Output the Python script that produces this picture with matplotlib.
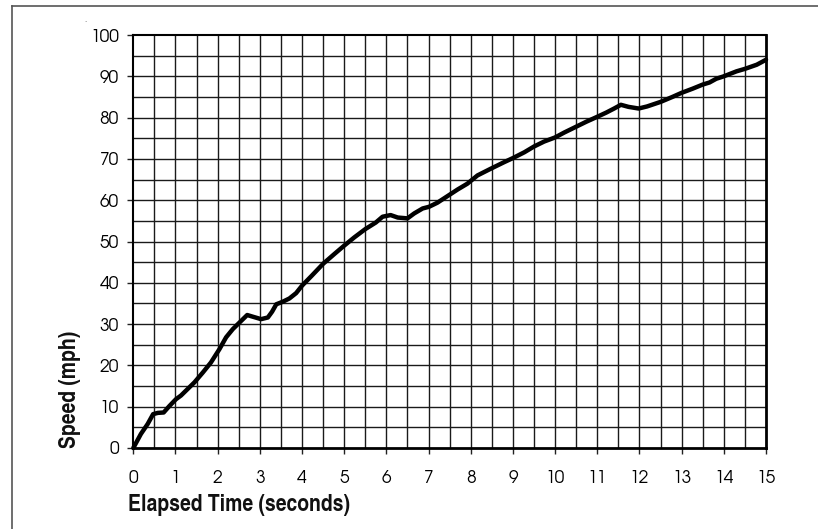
import matplotlib
matplotlib.use("Agg")
import matplotlib.pyplot as plt
from matplotlib.lines import Line2D

# Data
time_s = [0.0, 0.18, 0.34, 0.47, 0.58, 0.72, 0.85, 1.01, 1.13, 1.29, 1.45, 1.65,
          1.84, 2.04, 2.2, 2.36, 2.52, 2.7, 2.83, 3.03, 3.19, 3.29, 3.39, 3.54,
          3.7, 3.86, 4.0, 4.22, 4.5, 4.77, 5.0, 5.24, 5.5, 5.75, 5.91, 6.1,
          6.27, 6.5, 6.66, 6.86, 7.01, 7.21, 7.45, 7.69, 7.92, 8.16, 8.47, 8.79,
          9.0, 9.27, 9.5, 9.74, 10.0, 10.22, 10.5, 10.74, 11.0, 11.21, 11.4, 11.56,
          11.74, 11.98, 12.18, 12.5, 12.78, 13.0, 13.26, 13.5, 13.66, 13.82, 14.0,
          14.3, 14.5, 14.78, 15.0]
speed_mph = [0.0, 3.4, 5.8, 8.2, 8.5, 8.6, 10.1, 11.8, 12.7, 14.3, 15.9, 18.3,
             20.7, 23.9, 26.8, 28.8, 30.4, 32.2, 31.8, 31.2, 31.6, 33.0, 34.8, 35.4,
             36.2, 37.5, 39.3, 41.6, 44.6, 47.0, 49.0, 51.0, 53.0, 54.6, 56.0, 56.4,
             55.8, 55.6, 56.8, 58.0, 58.4, 59.4, 61.0, 62.6, 64.0, 66.0, 67.6, 69.2,
             70.2, 71.6, 73.0, 74.2, 75.2, 76.4, 77.8, 79.0, 80.2, 81.2, 82.2, 83.1,
             82.6, 82.2, 82.7, 83.8, 85.0, 86.0, 87.0, 88.0, 88.5, 89.4, 90.0,
             91.2, 91.8, 92.8, 94.0]

x_ticks = list(range(0, 16))
y_ticks = list(range(0, 101, 10))
x_label = "Elapsed Time (seconds)"
y_label = "Speed (mph)"

TICK_FONT = ["TeX Gyre Adventor", "Questrial", "DejaVu Sans"]
LABEL_FONT = ["TeX Gyre Heros Cn", "Roboto Condensed", "DejaVu Sans"]

W, H = 818, 529
fig = plt.figure(figsize=(W / 100, H / 100), dpi=100)
ax = fig.add_axes([133.3 / W, 1 - 448 / H, (766 - 133.3) / W, (448 - 35) / H])

ax.set_xlim(0, 15)
ax.set_ylim(0, 100)

# grid every 0.5 s and 5 mph
for gx in [i * 0.5 for i in range(1, 30)]:
    ax.axvline(gx, color="#1a1a1a", lw=1.0, zorder=1)
for gy in range(5, 100, 5):
    ax.axhline(gy, color="#1a1a1a", lw=1.0, zorder=1)

ax.plot(time_s, speed_mph, color="black", lw=3.2, solid_joinstyle="round",
        solid_capstyle="round", zorder=3, clip_on=False)

ax.set_xticks(x_ticks)
ax.set_yticks(y_ticks)
ax.set_xticklabels([str(v) for v in x_ticks])
ax.set_yticklabels([str(v) for v in y_ticks])
ax.tick_params(axis="both", direction="out", length=4.5, width=1.0, color="#222222",
               labelsize=12.5, labelcolor="black")
ax.tick_params(axis="x", pad=11.5)
ax.tick_params(axis="y", pad=6)
for lab in ax.get_xticklabels() + ax.get_yticklabels():
    lab.set_family(TICK_FONT)

for side, lw in [("bottom", 2.0), ("left", 1.5), ("right", 2.0), ("top", 1.5)]:
    ax.spines[side].set_linewidth(lw)
    ax.spines[side].set_color("black")

fig.text(128 / W, 1 - 494 / H, x_label, ha="left", va="top",
         family=LABEL_FONT, weight="bold", fontsize=17, color="#111111")
fig.text(70 / W, 1 - 448 / H, y_label, ha="center", va="bottom", rotation=90,
         family=LABEL_FONT, weight="bold", fontsize=17, color="#111111")

# outer frame (left and top edges visible)
fig.add_artist(Line2D([12 / W, 12 / W], [0, 1 - 6 / H], transform=fig.transFigure,
                      color="#555555", lw=1.2))
fig.add_artist(Line2D([12 / W, 1], [1 - 6 / H, 1 - 6 / H], transform=fig.transFigure,
                      color="#555555", lw=1.2))
fig.text(85 / W, 1 - 20 / H, ".", fontsize=5, color="#555555", ha="center", va="center")

fig.savefig("out.png", dpi=100)
